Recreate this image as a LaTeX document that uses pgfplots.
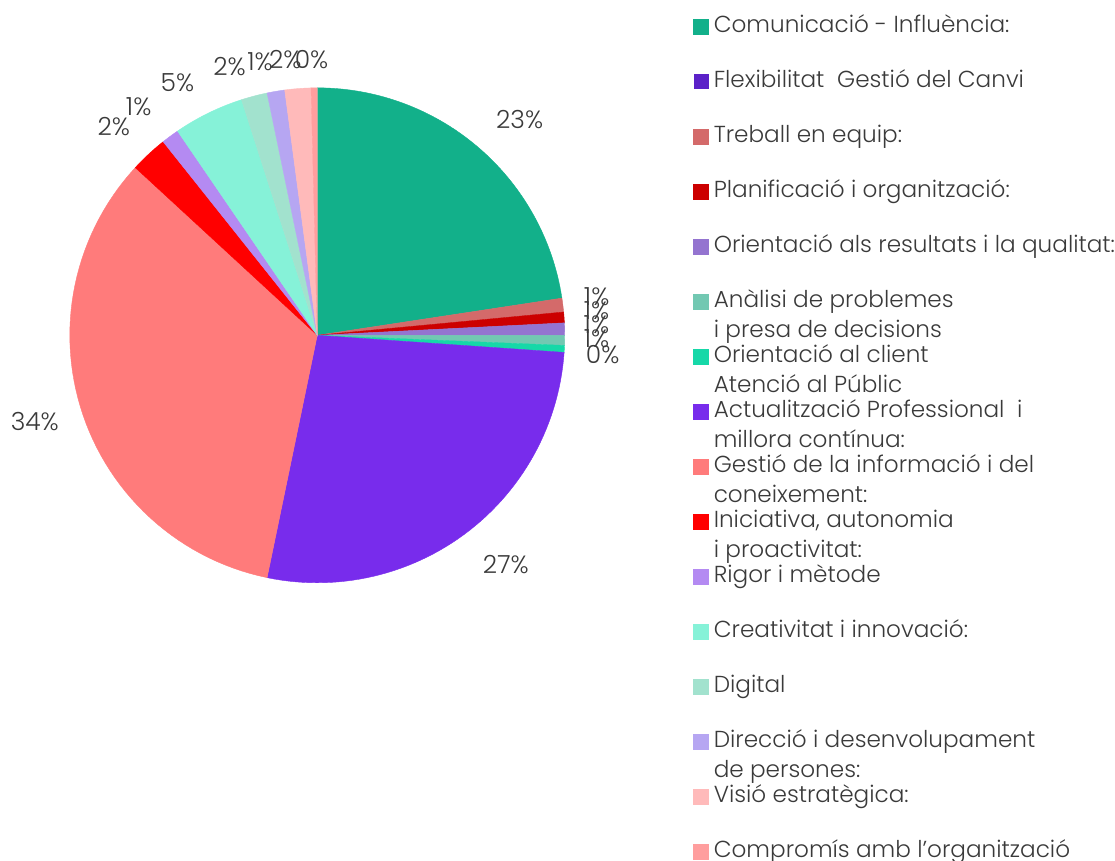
\documentclass[border=0pt]{standalone}
\usepackage{pgfplots}
\pgfplotsset{compat=1.18}
\usepackage{pgfplotstable}
\usepackage{fontspec}
\setmainfont{Poppins}[UprightFont={* Light}]
\definecolor{c0}{HTML}{12B08A}
\definecolor{c1}{HTML}{5B21C8}
\definecolor{c2}{HTML}{D46A6A}
\definecolor{c3}{HTML}{CC0000}
\definecolor{c4}{HTML}{9474D0}
\definecolor{c5}{HTML}{72C8B2}
\definecolor{c6}{HTML}{16D8A8}
\definecolor{c7}{HTML}{782CEC}
\definecolor{c8}{HTML}{FF7B7B}
\definecolor{c9}{HTML}{FF0000}
\definecolor{c10}{HTML}{B48AF2}
\definecolor{c11}{HTML}{86F2D8}
\definecolor{c12}{HTML}{A2E2CE}
\definecolor{c13}{HTML}{B6A6F2}
\definecolor{c14}{HTML}{FFBABA}
\definecolor{c15}{HTML}{FF9E9E}
\definecolor{txt}{HTML}{3A3A3A}

% val = share in percent, pct = printed label, la/lr = label angle (deg, clockwise from top) and radius
\pgfplotstableread{
idx val pct la lr
0 22.6 23 43.2 1.195
1 0 0 0 0
2 0.9 1 82.1 1.14
3 0.7 1 84.9 1.133
4 0.8 1 87.75 1.129
5 0.65 1 90.6 1.129
6 0.45 0 93.8 1.156
7 27.15 27 140.5 1.198
8 33.6 34 253.1 1.193
9 2.45 2 315.7 1.177
10 1.15 1 322 1.172
11 4.6 5 331 1.165
12 1.7 2 341.9 1.141
13 1.15 1 348.2 1.129
14 1.7 2 353.4 1.121
15 0.4 0 358.8 1.113
}\pietable

\newcommand\LE[1]{\raisebox{0pt}[10.5pt][0pt]{#1}}
\newcommand\LEE[2]{\raisebox{0pt}[10.5pt][0pt]{\makebox[0pt][l]{\raisebox{-15pt}{#2}}#1}}

\begin{document}
\begin{tikzpicture}
\xdef\cum{0}%
\foreach \i in {0,...,15}{%
  \pgfplotstablegetelem{\i}{val}\of\pietable
  \pgfmathsetmacro\myE{\cum+\pgfplotsretval}%
  \expandafter\xdef\csname sA\i\endcsname{\cum}%
  \expandafter\xdef\csname eA\i\endcsname{\myE}%
  \xdef\cum{\myE}%
  \pgfplotstablegetelem{\i}{pct}\of\pietable
  \expandafter\xdef\csname lab\i\endcsname{\pgfplotsretval}%
  \pgfplotstablegetelem{\i}{la}\of\pietable
  \expandafter\xdef\csname la\i\endcsname{\pgfplotsretval}%
  \pgfplotstablegetelem{\i}{lr}\of\pietable
  \expandafter\xdef\csname lr\i\endcsname{\pgfplotsretval}%
}%
\begin{axis}[
  x=124pt, y=124pt,
  xmin=-1.282, xmax=3.214, ymin=-2.101, ymax=1.355,
  hide axis, clip=false,
  legend image code/.code={\fill[#1] (0pt,-5.25pt) rectangle (7.5pt,2.25pt);},
  legend cell align=left,
  legend style={draw=none, fill=none, inner sep=0pt, outer sep=0pt,
    row sep=15.55pt, column sep=2.5pt,
    nodes={inner sep=0pt, outer sep=0pt, text=txt},
    font=\fontsize{11.6}{15}\selectfont,
    at={(axis cs:1.520,1.3065)}, anchor=north west},
]
\addplot[draw=none, forget plot] coordinates {(-1.282,-2.101) (3.214,1.355)};
\pgfplotsinvokeforeach{0}{
  \addplot[fill=c#1, draw=c#1, line width=0.2pt, domain=\csname sA#1\endcsname:\csname eA#1\endcsname, samples=120, variable=\t]
    ({sin(3.6*\t)},{cos(3.6*\t)}) -- (axis cs:0,0) -- cycle;
}
\addlegendimage{fill=c1, draw=none}
\pgfplotsinvokeforeach{2,3,...,15}{
  \addplot[fill=c#1, draw=c#1, line width=0.2pt, domain=\csname sA#1\endcsname:\csname eA#1\endcsname, samples=60, variable=\t]
    ({sin(3.6*\t)},{cos(3.6*\t)}) -- (axis cs:0,0) -- cycle;
}
\pgfplotsinvokeforeach{0,2,3,...,15}{
  \node[text=txt, font=\fontsize{12.5}{15}\selectfont, inner sep=0pt]
    at (axis cs:{\csname lr#1\endcsname*sin(\csname la#1\endcsname)},{\csname lr#1\endcsname*cos(\csname la#1\endcsname)})
    {\csname lab#1\endcsname\%};
}
\legend{
  {\LE{Comunicació - Influència:}},
  {\LE{Flexibilitat~~Gestió del Canvi}},
  {\LE{Treball en equip:}},
  {\LE{Planificació i organització:}},
  {\LE{Orientació als resultats i la qualitat:}},
  {\LEE{Anàlisi de problemes}{i presa de decisions}},
  {\LEE{Orientació al client}{Atenció al Públic}},
  {\LEE{Actualització Professional~~i}{millora contínua:}},
  {\LEE{Gestió de la informació i del}{coneixement:}},
  {\LEE{Iniciativa, autonomia}{i proactivitat:}},
  {\LE{Rigor i mètode}},
  {\LE{Creativitat i innovació:}},
  {\LE{Digital}},
  {\LEE{Direcció i desenvolupament}{de persones:}},
  {\LE{Visió estratègica:}},
  {\LE{Compromís amb l\char39organització}}
}
\end{axis}
\end{tikzpicture}
\end{document}
